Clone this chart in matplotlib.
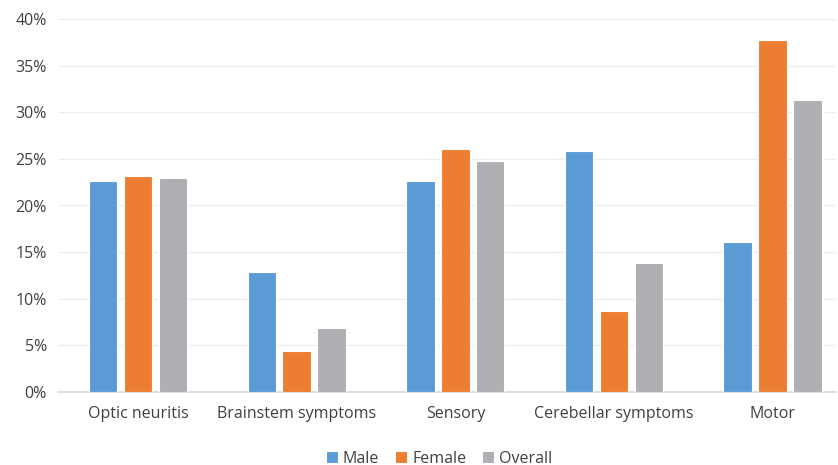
import numpy as np
import matplotlib.pyplot as plt
from matplotlib.ticker import FuncFormatter

categories = ["Optic neuritis", "Brainstem symptoms", "Sensory", "Cerebellar symptoms", "Motor"]
male = [22.6, 12.9, 22.6, 25.8, 16.1]
female = [23.2, 4.4, 26.1, 8.7, 37.7]
overall = [23.0, 6.9, 24.8, 13.8, 31.3]

series = [("Male", male, "#5B9BD5"), ("Female", female, "#ED7D31"), ("Overall", overall, "#AEAFB2")]

plt.rcParams['font.family'] = ['Open Sans', 'DejaVu Sans']

fig = plt.figure(figsize=(8.38, 4.65), dpi=100)
ax = fig.add_axes([58 / 838, 73 / 465, (836 - 58) / 838, (392 - 19) / 465])

x = np.arange(len(categories))
step = 0.22
for i, (name, vals, col) in enumerate(series):
    ax.bar(x + (i - 1) * step, vals, width=0.18, color=col, edgecolor="white", linewidth=0.8,
           label=name, zorder=3)

ax.set_xlim(-0.505, 4.40)
ax.set_ylim(0, 40)
ax.set_yticks(np.arange(0, 41, 5))
ax.yaxis.set_major_formatter(FuncFormatter(lambda v, p: f"{v:.0f}%"))
ax.set_xticks(x)
ax.set_xticklabels(categories)
ax.grid(axis="y", color="#EDEDED", linewidth=0.9, zorder=0)
for s in ["top", "right", "left"]:
    ax.spines[s].set_visible(False)
ax.spines["bottom"].set_color("#D9D9D9")
ax.spines["bottom"].set_linewidth(1.2)
ax.tick_params(axis="both", length=0, labelsize=11.5, colors="#404040")
ax.tick_params(axis="x", pad=10)
ax.tick_params(axis="y", pad=8)

ax.legend(loc="upper center", bbox_to_anchor=(0.49, -0.14), ncol=3, frameon=False,
          fontsize=11.5, handlelength=0.75, handleheight=0.75, handletextpad=0.3, columnspacing=1.0,
          labelcolor="#404040", borderaxespad=0)

fig.savefig("out.png", dpi=100)
